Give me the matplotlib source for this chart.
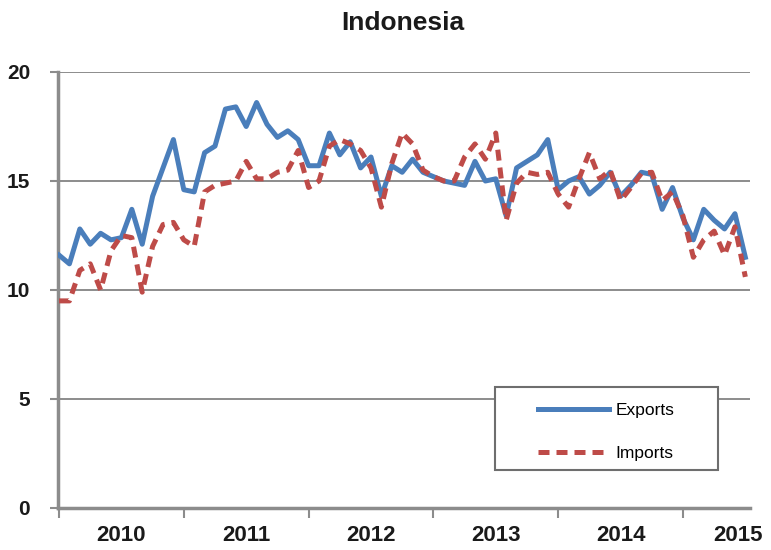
import numpy as np
import matplotlib
matplotlib.use('Agg')
import matplotlib.pyplot as plt
from matplotlib import font_manager
from matplotlib.patches import Rectangle

# monthly values, Jan 2010 .. Jul 2015
years = ['2010', '2011', '2012', '2013', '2014', '2015']

exports = [11.6, 11.2, 12.8, 12.1, 12.6, 12.3, 12.4, 13.7, 12.1, 14.3, 15.6, 16.9,
           14.6, 14.5, 16.3, 16.6, 18.3, 18.4, 17.5, 18.6, 17.6, 17.0, 17.3, 16.9,
           15.7, 15.7, 17.2, 16.2, 16.8, 15.6, 16.1, 14.3, 15.7, 15.4, 16.0, 15.4,
           15.2, 15.0, 14.9, 14.8, 15.9, 15.0, 15.1, 13.4, 15.6, 15.9, 16.2, 16.9,
           14.6, 15.0, 15.2, 14.4, 14.8, 15.4, 14.3, 14.8, 15.4, 15.3, 13.7, 14.7,
           13.3, 12.3, 13.7, 13.2, 12.8, 13.5, 11.5]

imports = [9.5, 9.5, 10.9, 11.2, 10.0, 11.8, 12.5, 12.4, 9.9, 12.0, 13.0, 13.1,
           12.3, 12.0, 14.5, 14.8, 14.9, 15.0, 15.9, 15.1, 15.1, 15.4, 15.5, 16.4,
           14.7, 15.0, 16.6, 16.9, 16.7, 16.4, 15.6, 13.8, 15.8, 17.2, 16.7, 15.5,
           15.2, 15.0, 15.0, 16.1, 16.7, 16.0, 17.2, 13.2, 14.9, 15.4, 15.3, 15.4,
           14.4, 13.8, 15.1, 16.3, 15.1, 15.5, 14.1, 14.7, 15.35, 15.4, 14.1, 14.5,
           13.4, 11.5, 12.3, 12.7, 11.6, 12.9, 10.6]

names = [f.name for f in font_manager.fontManager.ttflist]
if 'Liberation Sans Narrow' in names:
    plt.rcParams['font.family'] = ['Liberation Sans Narrow', 'DejaVu Sans']
else:
    plt.rcParams['font.family'] = ['Liberation Sans', 'DejaVu Sans']

fig = plt.figure(figsize=(7.71, 5.5), dpi=100)
ax = fig.add_axes([0.0752, 0.0764, 0.8976, 0.7927])

x = np.arange(len(exports))
ax.plot(x, exports, color='#4a7ebb', lw=3.6, solid_joinstyle='round',
        label='Exports', zorder=3)
ax.plot(x, imports, color='#be4b48', lw=3.6, linestyle=(0, (2.2, 1.4)),
        label='Imports', zorder=4)

ax.set_ylim(0, 20)
ax.set_xlim(-0.1, len(x) - 1 + 0.45)
ax.set_yticks([0, 5, 10, 15, 20])
ax.yaxis.grid(True, color='#8c8c8c', lw=1.4)
ax.set_axisbelow(True)

# year boundaries as ticks, labels centred in each year
starts = np.arange(0, len(x), 12)
ax.set_xticks(starts)
ax.set_xticklabels([])
label_pos = [s + 6 if s + 12 <= len(x) else len(x) - 1.7 for s in starts]
ax.set_xticks(label_pos, minor=True)
ax.set_xticklabels(years, minor=True)
ax.tick_params(axis='x', which='minor', length=0, pad=12, labelsize=16)
ax.tick_params(axis='x', which='major', length=7, width=1.5, color='#8c8c8c')
ax.tick_params(axis='y', length=6, width=1.5, color='#8c8c8c', pad=14, labelsize=15)
for lab in ax.get_xticklabels(minor=True) + ax.get_yticklabels():
    lab.set_fontweight('bold')
    lab.set_color('#1a1a1a')

for s in ['top', 'right']:
    ax.spines[s].set_visible(False)
for s in ['left', 'bottom']:
    ax.spines[s].set_color('#8c8c8c')
    ax.spines[s].set_linewidth(2.5)

fig.text(0.523, 0.958, 'Indonesia', ha='center', va='center',
         fontsize=19, fontweight='bold', color='#1a1a1a')

# legend box drawn by hand, entries centred inside it
box = Rectangle((0.632, 0.087), 0.322, 0.19, transform=ax.transAxes,
                facecolor='white', edgecolor='#6e6e6e', lw=1.5, zorder=5)
ax.add_patch(box)
leg = ax.legend(loc='center', bbox_to_anchor=(0.792, 0.175), frameon=False,
                fontsize=12.5, handlelength=4.1, labelspacing=1.6,
                borderpad=0, borderaxespad=0, handletextpad=0.4)
leg.set_zorder(6)

fig.savefig('out.png', dpi=100)
